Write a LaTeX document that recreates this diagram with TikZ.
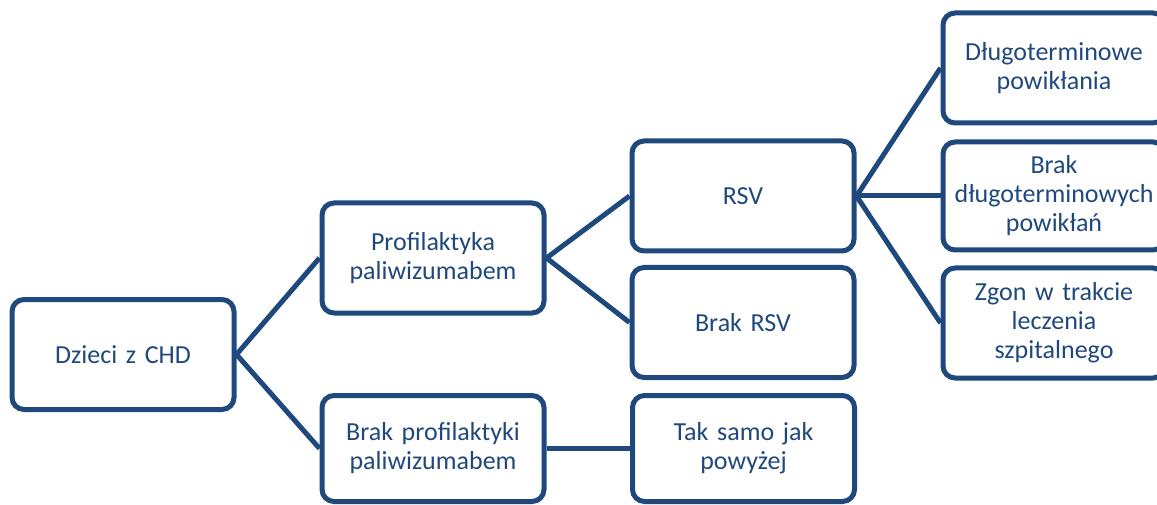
\documentclass[tikz,border=0pt]{standalone}
\usepackage{fontspec}
\setmainfont{Carlito}
\definecolor{navy}{HTML}{1F497D}
\begin{document}
\begin{tikzpicture}[x=1pt,y=-1pt,
  box/.style={draw=navy, line width=5pt, rounded corners=12pt, fill=white,
    minimum width=222pt, minimum height=110pt, text width=214pt, align=center,
    inner sep=0pt, text=navy, font=\fontsize{26}{29}\selectfont},
  low/.style={minimum height=106pt},
  link/.style={draw=navy, line width=5pt}]
\clip (0,0) rectangle (1157,505);
\fill[white] (0,0) rectangle (1157,505);
\node[box] (b1) at (123,354.5) {Dzieci z CHD};
\node[box] (b2) at (433,258) {Profilaktyka\\paliwizumabem};
\node[box,low] (b3) at (433,448.5) {Brak profilaktyki\\paliwizumabem};
\node[box] (r1) at (743,196) {RSV};
\node[box] (r2) at (743,322.5) {Brak RSV};
\node[box,low] (t1) at (743.5,448.5) {Tak samo jak\\powyżej};
\node[box] (d1) at (1054,68) {Długoterminowe\\powikłania};
\node[box,minimum height=108pt] (d2) at (1054,196) {Brak\\długoterminowych\\powikłań};
\node[box] (d3) at (1054,323) {Zgon w trakcie\\leczenia\\szpitalnego};
\draw[link] (b1.east) -- (b2.west);
\draw[link] (b1.east) -- (b3.west);
\draw[link] (b2.east) -- (r1.west);
\draw[link] (b2.east) -- (r2.west);
\draw[link] (b3.east) -- (t1.west);
\draw[link] (r1.east) -- (d1.west);
\draw[link] (r1.east) -- (d2.west);
\draw[link] (r1.east) -- (d3.west);
\end{tikzpicture}
\end{document}
